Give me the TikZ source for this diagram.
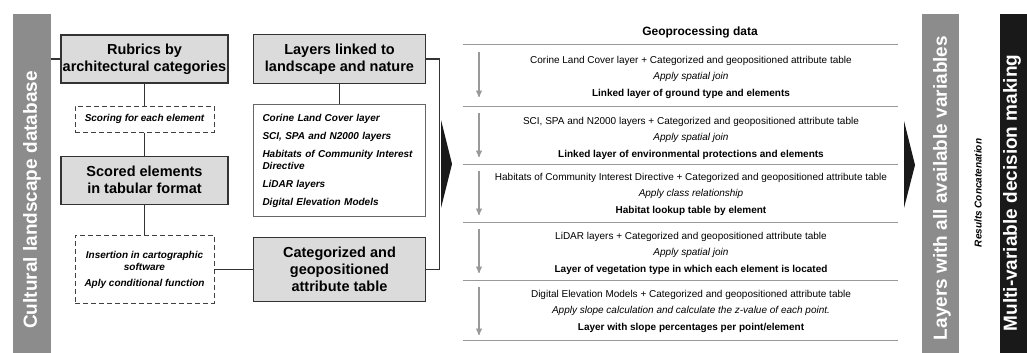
\documentclass[tikz,border=0pt]{standalone}
\usepackage{fontspec}
\setmainfont{Liberation Sans}
\usetikzlibrary{arrows,positioning}

\definecolor{bargray}{gray}{0.55}
\definecolor{boxgray}{gray}{0.86}
\definecolor{rulegray}{gray}{0.6}

\begin{document}
\begin{tikzpicture}[x=1pt,y=-1pt,>=stealth',
    box/.style={draw=black!80,line width=1.5pt,fill=boxgray,align=center,
      inner sep=0pt,font=\fontsize{14.5}{17}\selectfont\bfseries},
    dbox/.style={draw=black!75,dashed,dash pattern=on 5pt off 3pt,line width=0.8pt,
      align=center,inner sep=0pt,minimum width=139pt,
      font=\fontsize{10}{12.5}\selectfont\bfseries\itshape},
    bar/.style={minimum width=38pt,minimum height=339pt,inner sep=0pt},
    bartext/.style={rotate=90,text=white,font=\fontsize{19}{22}\selectfont\bfseries},
    link/.style={draw=black!80,line width=1.2pt},
    row/.style={align=center,font=\fontsize{10}{16.5}\selectfont},
    down/.style={->,draw=rulegray,line width=1.3pt},
    sep/.style={draw=rulegray,line width=1pt}]

  \useasboundingbox (0,0) rectangle (1027,353);

  % left column
  \node[bar,fill=bargray] (db) at (32,183.5) {};
  \node[bartext] at (db.center |- 0,200) {Cultural landscape database};

  \node[box,minimum width=167pt,minimum height=48pt] (rub) at (144.5,59)
    {Rubrics by\\architectural categories};
  \node[dbox,minimum height=26pt] (score) [below=22pt of rub]
    {Scoring for each element};
  \node[box,minimum width=167pt,minimum height=48pt] (scored) [below=23pt of score]
    {Scored elements\\in tabular format};
  \node[dbox,minimum height=68pt] (ins) [below=30pt of scored]
    {Insertion in cartographic\\software\\[3pt]Aply conditional function};

  \node[box,minimum width=172pt,minimum height=49pt] (layers) [right=24pt of rub]
    {Layers linked to\\landscape and nature};
  \node[draw=black!60,line width=0.7pt,minimum height=112pt,text width=154pt,
    inner xsep=9pt,inner ysep=0pt,align=left,font=\fontsize{10}{12}\selectfont\bfseries\itshape]
    (list) [below=20pt of layers]
    {Corine Land Cover layer\\[6pt]SCI, SPA and N2000 layers\\[6pt]Habitats of Community Interest\\Directive\\[6pt]LiDAR layers\\[6pt]Digital Elevation Models};
  \node[box,minimum width=172pt,minimum height=64pt] (cat) [below=20pt of list]
    {Categorized and\\geopositioned\\attribute table};

  \draw[link] (db.east |- rub.west) -- (rub.west);
  \draw[link] (rub) -- (score);
  \draw[link] (score) -- (scored);
  \draw[link] (scored) -- (ins);
  \draw[link] (ins.east) -- (ins.east -| cat.west);
  \draw[link] (layers) -- (list);
  \draw[link] (layers.east) -- ++(13pt,0) |- (cat.east);

  \fill[black!90] (441,120) -- (452,164) -- (441,208) -- cycle;

  % geoprocessing
  \node[font=\fontsize{12}{14}\selectfont\bfseries] (geo) at (700,32) {Geoprocessing data};

  \draw[sep] (463,45) -- (898,45);
  \draw[sep] (463,106) -- (898,106);
  \draw[sep] (463,164) -- (898,164);
  \draw[sep] (463,222) -- (898,222);
  \draw[sep] (463,280) -- (898,280);
  \draw[sep] (463,340) -- (898,340);

  \node[row] (r1) at (691,77) {Corine Land Cover layer + Categorized and geopositioned attribute table\\
    \textit{Apply spatial join}\\\textbf{Linked layer of ground type and elements}};
  \node[row] (r2) at (691,138) {SCI, SPA and N2000 layers + Categorized and geopositioned attribute table\\
    \textit{Apply spatial join}\\\textbf{Linked layer of environmental protections and elements}};
  \node[row] (r3) at (691,194) {Habitats of Community Interest Directive + Categorized and geopositioned attribute table\\
    \textit{Apply class relationship}\\\textbf{Habitat lookup table by element}};
  \node[row] (r4) at (691,253) {LiDAR layers + Categorized and geopositioned attribute table\\
    \textit{Apply spatial join}\\\textbf{Layer of vegetation type in which each element is located}};
  \node[row] (r5) at (691,311) {Digital Elevation Models + Categorized and geopositioned attribute table\\
    \textit{Apply slope calculation and calculate the z-value of each point.}\\
    \textbf{Layer with slope percentages per point/element}};

  \draw[down] (479,52) -- (479,97);
  \draw[down] (479,113) -- (479,157);
  \draw[down] (479,171) -- (479,215);
  \draw[down] (479,229) -- (479,273);
  \draw[down] (479,287) -- (479,335);

  \fill[black!90] (904,121) -- (915,165) -- (904,208) -- cycle;

  % right column
  \node[bar,fill=bargray,minimum width=37pt] (all) at (940.5,183.5) {};
  \node[bartext] at (942,188) {Layers with all available variables};
  \node[rotate=90,font=\fontsize{10}{12}\selectfont\bfseries\itshape] (conc) at (978,193)
    {Results Concatenation};
  \node[bar,fill=black!90,minimum width=27pt] (mcd) at (1013.5,183.5) {};
  \node[bartext] at (1012,193) {Multi-variable decision making};

\end{tikzpicture}
\end{document}
